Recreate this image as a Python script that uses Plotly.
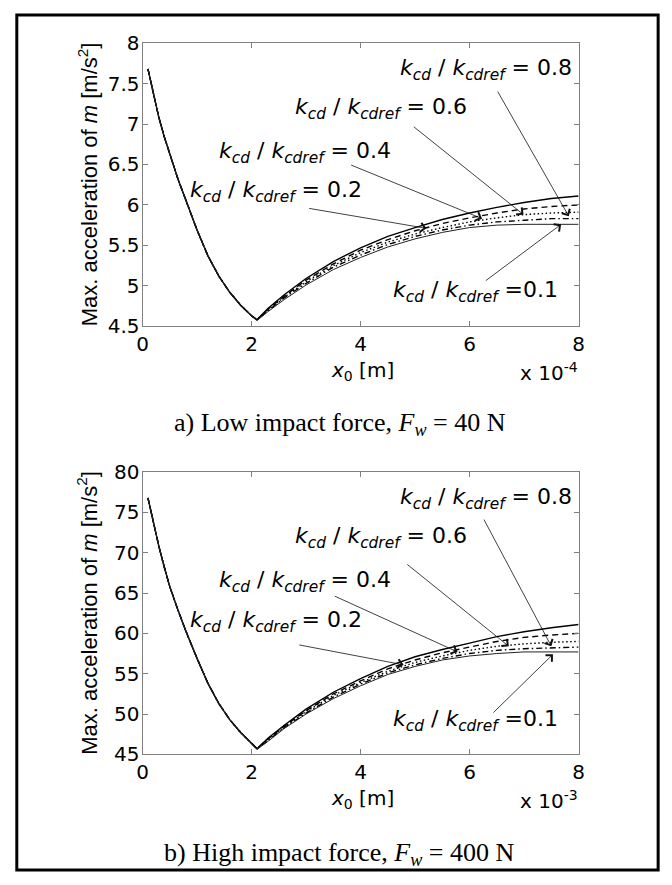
import plotly.graph_objects as go

W, H = 672, 885

# ---------------- data ----------------
# x0 in units of 1e-4 m (top) and 1e-3 m (bottom)
x_left = [0.1, 0.2, 0.3, 0.4, 0.5, 0.65, 0.8, 1.0, 1.2, 1.4, 1.6, 1.8, 2.0]
x_right = [2.1, 2.3, 2.6, 3.0, 3.5, 4.0, 4.5, 5.0, 5.5, 6.0, 6.5, 7.0, 7.5, 8.0]

ratios = ["0.8", "0.6", "0.4", "0.2", "0.1"]

# top panel (F_w = 40 N)
top_left = [7.68, 7.36, 7.08, 6.84, 6.62, 6.32, 6.05, 5.69, 5.37, 5.12, 4.92, 4.76, 4.63]
top_right_08 = [4.58, 4.72, 4.89, 5.09, 5.30, 5.47, 5.61, 5.72, 5.82, 5.90, 5.97, 6.03, 6.08, 6.11]
top_right_06 = [4.58, 4.71, 4.87, 5.07, 5.27, 5.44, 5.57, 5.68, 5.77, 5.84, 5.90, 5.95, 5.98, 6.00]
top_right_04 = [4.58, 4.70, 4.86, 5.05, 5.25, 5.41, 5.54, 5.64, 5.72, 5.79, 5.84, 5.88, 5.90, 5.91]
top_right_02 = [4.58, 4.69, 4.85, 5.03, 5.23, 5.38, 5.51, 5.61, 5.69, 5.75, 5.79, 5.81, 5.83, 5.83]
top_right_01 = [4.57, 4.68, 4.83, 5.01, 5.20, 5.35, 5.48, 5.58, 5.66, 5.72, 5.75, 5.76, 5.76, 5.76]

# bottom panel (F_w = 400 N)
bot_left = [76.8, 73.6, 70.8, 68.2, 65.8, 62.9, 60.2, 56.9, 53.8, 51.3, 49.3, 47.7, 46.3]
bot_right_08 = [45.7, 47.0, 48.6, 50.6, 52.7, 54.4, 55.9, 57.1, 58.0, 58.8, 59.6, 60.2, 60.7, 61.1]
bot_right_06 = [45.7, 46.9, 48.5, 50.4, 52.5, 54.1, 55.6, 56.7, 57.6, 58.3, 59.0, 59.5, 59.8, 60.0]
bot_right_04 = [45.7, 46.8, 48.4, 50.3, 52.3, 53.9, 55.3, 56.4, 57.2, 57.9, 58.4, 58.7, 58.9, 59.0]
bot_right_02 = [45.7, 46.7, 48.3, 50.1, 52.1, 53.7, 55.1, 56.1, 56.9, 57.5, 57.9, 58.1, 58.2, 58.3]
bot_right_01 = [45.6, 46.6, 48.2, 50.0, 51.9, 53.5, 54.9, 55.9, 56.7, 57.2, 57.5, 57.7, 57.7, 57.7]

x_ticks = [0, 2, 4, 6, 8]
top_yticks = [4.5, 5, 5.5, 6, 6.5, 7, 7.5, 8]
top_yticktext = ["4.5", "5", "5.5", "6", "6.5", "7", "7.5", "8"]
bot_yticks = [45, 50, 55, 60, 65, 70, 75, 80]
bot_yticktext = ["45", "50", "55", "60", "65", "70", "75", "80"]

# annotation arrows: (label, tail_x, tail_y, tip_x, tip_y)
top_arrows = [
    ("0.8", 6.50, 7.42, 7.82, 5.86),
    ("0.6", 4.95, 6.98, 6.99, 5.88),
    ("0.4", 3.80, 6.50, 6.23, 5.83),
    ("0.2", 3.03, 5.96, 5.21, 5.71),
    ("0.1", 6.27, 5.05, 7.68, 5.76),
]
bot_arrows = [
    ("0.8", 6.25, 74.3, 7.50, 58.4),
    ("0.6", 4.83, 68.7, 6.72, 58.4),
    ("0.4", 3.50, 64.7, 5.78, 57.7),
    ("0.2", 2.85, 58.6, 4.79, 56.1),
    ("0.1", 6.41, 50.0, 7.53, 57.4),
]
# label right edge (px) and vertical centre relative to plot top (px)
label_pos = {"0.8": (578, 27), "0.6": (471, 67), "0.4": (394, 112),
             "0.2": (365, 153), "0.1": (564, 255)}

# ---------------- figure ----------------
styles = {
    "0.8": dict(color="black", width=1.4, dash="solid"),
    "0.6": dict(color="black", width=1.4, dash="6px,4px"),
    "0.4": dict(color="black", width=1.4, dash="1.5px,2.5px"),
    "0.2": dict(color="black", width=1.4, dash="6px,3px,1.5px,3px"),
    "0.1": dict(color="#222222", width=1.0, dash="solid"),
}

fig = go.Figure()

top_right = [top_right_08, top_right_06, top_right_04, top_right_02, top_right_01]
bot_right = [bot_right_08, bot_right_06, bot_right_04, bot_right_02, bot_right_01]

for r, yr in zip(ratios, top_right):
    fig.add_trace(go.Scatter(x=x_left + x_right, y=top_left + yr, mode="lines",
                             line=styles[r], xaxis="x", yaxis="y", showlegend=False,
                             name="k_cd/k_cdref = " + r))
for r, yr in zip(ratios, bot_right):
    fig.add_trace(go.Scatter(x=x_left + x_right, y=bot_left + yr, mode="lines",
                             line=styles[r], xaxis="x2", yaxis="y2", showlegend=False,
                             name="k_cd/k_cdref = " + r))

FONT = "DejaVu Sans, Verdana, sans-serif"
YFONT = "Liberation Sans, Arial, sans-serif"
SERIF = "Liberation Serif, Times New Roman, serif"
AX_COL = "#808080"

xl, xr = 139, 583
top_t, top_b = 32, 323
bot_t, bot_b = 473, 763


def px2x(p):
    return p / W


def px2y(p):
    return 1 - p / H


axis_common = dict(showline=True, linecolor=AX_COL, linewidth=1, mirror="ticks",
                   ticks="inside", ticklen=5, tickcolor=AX_COL, showgrid=False,
                   zeroline=False, tickfont=dict(family=FONT, size=20, color="black"))

fig.update_layout(
    width=W, height=H, autosize=False,
    margin=dict(l=0, r=0, t=0, b=0),
    paper_bgcolor="white", plot_bgcolor="white",
    xaxis=dict(domain=[px2x(xl), px2x(xr)], range=[0, 8], tickvals=x_ticks,
               anchor="y", **axis_common),
    yaxis=dict(domain=[px2y(top_b), px2y(top_t)], range=[4.5, 8],
               tickvals=top_yticks, ticktext=top_yticktext, anchor="x",
               ticklabelstandoff=-2, **axis_common),
    xaxis2=dict(domain=[px2x(xl), px2x(xr)], range=[0, 8], tickvals=x_ticks,
                anchor="y2", **axis_common),
    yaxis2=dict(domain=[px2y(bot_b), px2y(bot_t)], range=[45, 80],
                tickvals=bot_yticks, ticktext=bot_yticktext, anchor="x2",
                ticklabelstandoff=-2, **axis_common),
)

ann = []
for (arrows, xa, ya, ptop, pbot) in [(top_arrows, "x", "y", top_t, top_b),
                                     (bot_arrows, "x2", "y2", bot_t, bot_b)]:
    for lab, tx, ty, hx, hy in arrows:
        ann.append(dict(x=hx, y=hy, ax=tx, ay=ty, xref=xa, yref=ya, axref=xa, ayref=ya,
                        text="", showarrow=True, arrowhead=4, arrowsize=2.2,
                        arrowwidth=0.8, arrowcolor="#111111", standoff=0, startstandoff=0))
        rx, dy = label_pos[lab]
        eq = " = " if lab != "0.1" else " ="
        ann.append(dict(
            x=px2x(rx), y=px2y(ptop + dy), xref="paper", yref="paper",
            text="<i>k</i><sub><i>cd</i></sub> / <i>k</i><sub><i>cdref</i></sub>" + eq + lab,
            showarrow=False, font=dict(family=FONT, size=22, color="black"),
            xanchor="right", yanchor="middle"))

    # y axis title
    ann.append(dict(x=px2x(83), y=px2y((ptop + pbot) / 2),
                    xref="paper", yref="paper", textangle=-90,
                    text="Max. acceleration of <i>m</i> [m/s<sup>2</sup>]",
                    showarrow=False, font=dict(family=YFONT, size=22, color="black"),
                    xanchor="center", yanchor="middle"))

# x titles and exponent labels
for pb, expo in [(top_b, "-4"), (bot_b, "-3")]:
    ann.append(dict(x=px2x(363), y=px2y(pb + 46), xref="paper", yref="paper",
                    text="<i>x</i><sub>0</sub> [m]", showarrow=False,
                    font=dict(family=FONT, size=20, color="black"),
                    xanchor="center", yanchor="middle"))
    ann.append(dict(x=px2x(584), y=px2y(pb + 47), xref="paper", yref="paper",
                    text="x 10<sup>" + expo + "</sup>", showarrow=False,
                    font=dict(family=FONT, size=20, color="black"),
                    xanchor="right", yanchor="middle"))

# captions
ann.append(dict(x=px2x(340), y=px2y(423), xref="paper", yref="paper",
                text="a) Low impact force, <i>F<sub>w</sub></i> = 40 N", showarrow=False,
                font=dict(family=SERIF, size=26, color="black"),
                xanchor="center", yanchor="middle"))
ann.append(dict(x=px2x(340), y=px2y(865), xref="paper", yref="paper",
                text="b) High impact force, <i>F<sub>w</sub></i> = 400 N", showarrow=False,
                font=dict(family=SERIF, size=26, color="black"),
                xanchor="center", yanchor="middle"))

fig.update_layout(annotations=ann)

# outer frame
fig.add_shape(type="rect", xref="paper", yref="paper",
              x0=px2x(11), x1=px2x(664), y0=px2y(882), y1=px2y(3),
              line=dict(color="black", width=3), fillcolor="rgba(0,0,0,0)", layer="above")

fig.write_html("out.html")
